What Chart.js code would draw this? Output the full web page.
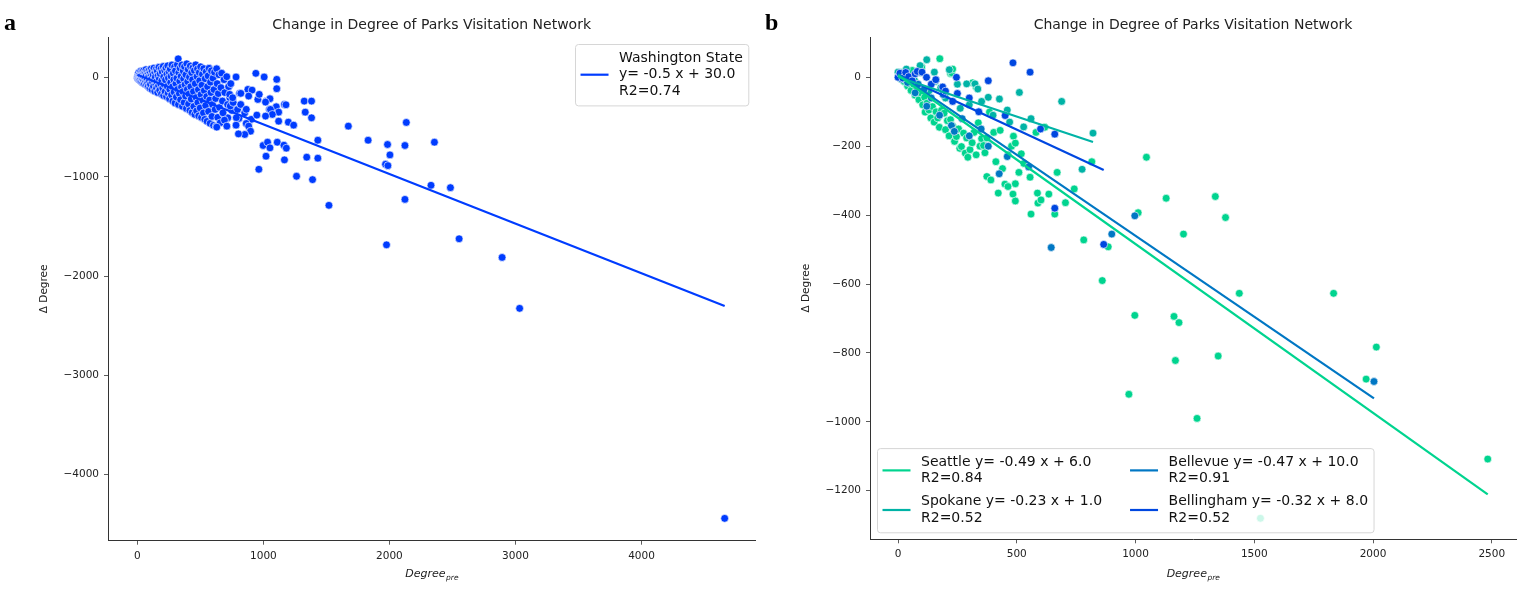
<!DOCTYPE html>
<html>
<head>
<meta charset="utf-8">
<script src="https://cdn.jsdelivr.net/npm/chart.js@4.4.1/dist/chart.umd.min.js"></script>
<style>
  html, body { margin: 0; padding: 0; background: #fff; }
  #wrap { position: relative; width: 1528px; height: 592px; }
  canvas { position: absolute; top: 0; }
  #chartA { left: 0; }
  #chartB { left: 760px; }
</style>
</head>
<body>
<div id="wrap">
  <canvas id="chartA" width="760" height="592"></canvas>
  <canvas id="chartB" width="768" height="592"></canvas>
</div>
<script>
// ---- panel a: Washington State ----
var waPoints = [
  // dense cluster near the origin
  [1,3],[3,-6],[6,14],[7,35],[9,-12],[11,52],[14,-2],[16,22],[17,-20],[21,41],[23,7],[24,-31],[27,66],[29,-9],
  [31,28],[34,-44],[36,12],[37,58],[41,-18],[43,33],[44,-52],[47,3],[49,71],[51,-28],[53,45],[57,-61],[59,16],
  [61,-5],[64,54],[67,-40],[68,81],[71,25],[73,-70],[77,-14],[79,62],
  [82,-55],[85,39],[87,-88],[90,9],[93,74],[96,-33],[99,-104],[101,50],[104,-66],[108,18],[109,88],[113,-12],
  [116,-118],[117,61],[121,-47],[125,30],[128,-90],[131,97],[134,-25],[138,-136],[139,52],[142,5],[147,-71],
  [149,84],[152,-108],[155,-38],[158,67],[161,-150],[164,19],[168,-82],[171,105],[174,-12],[177,-127],[181,41],
  [184,-60],[188,90],[191,-165],[194,-30],[197,58],
  [201,-104],[205,113],[208,-180],[209,8],[213,-68],[217,75],[220,-141],[223,-22],[227,99],[231,-190],[234,36],
  [237,-88],[241,120],[244,-156],[246,-3],[251,60],[255,-212],[257,-118],[261,88],[264,-48],[267,16],[271,-175],
  [274,128],[278,-92],[281,-236],[285,44],[289,-20],[291,-145],[295,108],[299,-255],[302,70],[306,-60],[309,-195],
  [313,-5],[317,132],[319,-118],
  [324,190],[326,-270],[329,52],[333,-160],[336,-35],[339,96],[343,-222],[347,14],[350,-95],[353,128],[357,-288],
  [361,-140],[364,68],[367,-12],[371,-250],[374,112],[378,-70],[382,-185],[385,30],[389,-310],[392,140],[396,-118],
  [399,-40],[403,84],[406,-265],[409,-165],[413,6],[417,-330],[420,118],[424,-90],[427,-215],[431,50],[435,-350],
  [438,-20],[441,100],
  [445,-140],[448,-290],[452,72],[456,-370],[459,-60],[463,130],[466,-200],[470,-335],[473,12],[477,88],[480,-250],
  [484,-120],[487,-385],[491,52],[494,-30],[498,-305],[502,110],[505,-170],[509,-400],[512,-75],[516,35],[520,-230],
  [524,-355],[527,92],[531,-130],[535,-420],[538,-10],[542,-280],[546,60],[550,-190],[553,-440],[557,-90],
  [561,18],[565,-340],[569,95],[573,-225],[577,-460],[580,-45],[584,-150],[588,70],[592,-390],[596,-270],[600,-5],
  [604,-480],[608,-120],[612,55],[617,-320],[621,-210],[625,-490],[629,90],[633,-60],[638,-400],[642,-160],[647,30],
  [652,-300],[657,-455],[663,-100],[669,45],[675,-235],[682,-360],[688,-20],[694,-150],[702,-420],[709,10],
  [716,-270],[724,-90],[733,-200],[741,-60],[750,-330],
  // spread-out parks
  [718,-404],[679,-354],[737,-286],[795,-320],[852,-354],[806,-410],[691,-428],[760,-250],[820,-270],[732,-168],
  [811,-157],[877,-118],[864,-319],[785,-403],[903,-420],[956,-219],[1022,-236],[1048,-319],[1167,-269],
  [783,7],[940,44],[1006,7],[1106,-17],[1106,-111],[910,-125],[821,-158],[967,-168],[883,-185],[756,-202],
  [1052,-212],[1017,-246],[1179,-273],[1102,-293],[1324,-236],[1382,-236],[1332,-347],[1382,-404],[1056,-320],
  [1121,-347],[1071,-370],[1017,-387],[948,-377],[1121,-438],[1198,-448],[1240,-478],[864,-461],[783,-478],
  [710,-488],[630,-498],[883,-488],[898,-539],[852,-572],[802,-566],[1674,-488],[1831,-630],[1432,-630],
  [998,-683],[1033,-650],[1052,-707],[1110,-650],[1163,-680],[1182,-710],[1021,-791],[964,-923],[1167,-828],
  [1263,-993],[1344,-801],[1432,-811],[1390,-1027],[1520,-1286],[2134,-451],[1985,-673],[2123,-683],[2357,-650],
  [2004,-778],[1969,-872],[1988,-886],[2330,-1084],[2484,-1108],[2123,-1226],[2553,-1623],[1977,-1684],
  [2894,-1811],[3033,-2324],[4660,-4440]
];
var waName = "Washington State";
var waSlope = -0.5;
var waIntercept = 30.0;
var waR2 = "0.74";
var waXRange = [0, 4660];

// ---- panel b: cities ----
var cities = ["Seattle", "Spokane", "Bellevue", "Bellingham"];
var citySlopes = [-0.49, -0.23, -0.47, -0.32];
var cityIntercepts = [6.0, 1.0, 10.0, 8.0];
var cityR2 = ["0.84", "0.52", "0.91", "0.52"];
var cityXMax = [2483, 821, 2004, 866];

var seattlePoints = [
  [5,8],[12,-5],[18,15],[25,-12],[32,4],[40,-25],[48,-8],[55,-38],[60,20],[65,-20],[72,-52],[80,-32],[88,-65],
  [95,-45],[100,30],[104,-80],[112,-58],[114,-101],[122,-75],[130,-95],[138,-118],[145,-85],[152,-130],[160,-100],
  [167,-118],[174,-145],[176,54],[183,-96],[194,-104],[200,-152],[208,-126],[215,-170],[221,11],[221,-123],[226,13],
  [230,24],[230,-141],[238,-186],[246,-172],[255,-150],[260,-206],[267,-201],[276,-162],[283,-220],[289,-176],
  [294,-232],[303,-210],[312,-190],[314,-16],[320,-160],[329,-28],[329,-225],[338,-132],[345,-200],[352,-178],
  [360,-198],[366,-219],[374,-176],[374,-288],[385,-101],[391,-298],[403,-160],[412,-245],[422,-336],[430,-154],
  [440,-265],[450,-310],[463,-225],[463,-317],[478,-200],[484,-339],[486,-171],[494,-191],[494,-309],[494,-359],
  [509,-276],[519,-222],[530,-250],[556,-290],[560,-397],[581,-160],[587,-336],[589,-365],[602,-356],[618,-145],
  [635,-339],[660,-397],[670,-276],[705,-364],[742,-324],[782,-472],[816,-245],[860,-590],[885,-492],[972,-920],
  [997,-691],[1011,-393],[1046,-232],[1129,-351],[1162,-694],[1168,-822],[1183,-712],[1202,-455],[1259,-990],
  [1336,-346],[1348,-809],[1379,-407],[1437,-627],[1526,-1280],[1834,-627],[1971,-876],[2014,-783],[2483,-1108]
];
var spokanePoints = [
  [0,15],[10,5],[22,12],[35,24],[50,-6],[70,-10],[93,34],[95,14],[121,51],[130,-40],[153,15],[156,-12],[180,-30],
  [200,-60],[216,22],[250,-20],[262,-90],[289,-19],[300,-80],[324,-19],[336,-34],[352,-70],[380,-58],[400,-110],
  [427,-63],[460,-95],[470,-130],[511,-44],[529,-144],[560,-120],[689,-70],[775,-267],[821,-162]
];
var bellevuePoints = [
  [3,3],[15,-5],[28,8],[40,-15],[55,-3],[72,-45],[85,-20],[110,-35],[121,-84],[140,-60],[160,-7],[175,-110],
  [190,-50],[225,-140],[237,-157],[270,-120],[300,-170],[350,-150],[380,-200],[426,-280],[460,-230],[550,-260],
  [645,-494],[900,-455],[997,-402],[2004,-883]
];
var bellinghamPoints = [
  [0,0],[8,12],[20,-2],[32,14],[45,2],[60,-10],[72,10],[81,17],[101,15],[120,0],[140,-20],[159,-7],[188,-28],
  [200,-40],[230,-70],[246,0],[250,-47],[300,-60],[340,-100],[380,-10],[451,-111],[484,42],[556,15],[600,-150],
  [660,-165],[660,-380],[866,-485]
];
var cityPoints = [seattlePoints, spokanePoints, bellevuePoints, bellinghamPoints];

// ticks
var ticksAX = [0, 1000, 2000, 3000, 4000];
var ticksAY = [0, -1000, -2000, -3000, -4000];
var ticksBX = [0, 500, 1000, 1500, 2000, 2500];
var ticksBY = [0, -200, -400, -600, -800, -1000, -1200];

var chartTitle = "Change in Degree of Parks Visitation Network";

// styles
var FONT = "'DejaVu Sans', 'Liberation Sans', sans-serif";
var waColor = "#003cff";
var cityColors = ["#00d48f", "#00b3a6", "#0077c4", "#0047e0"];

function fmt(v) {
  return v < 0 ? "\u2212" + Math.abs(v) : String(v);
}

function toXY(list) {
  return list.map(function (p) { return { x: p[0], y: p[1] }; });
}

function fitLine(slope, intercept, x0, x1) {
  return [{ x: x0, y: slope * x0 + intercept }, { x: x1, y: slope * x1 + intercept }];
}

function makeScales(xt, yt, xr, yr, yTitlePad, yW, xH) {
  var tickFont = { family: FONT, size: 10.5 };
  return {
    x: {
      type: "linear", min: xr[0], max: xr[1],
      afterBuildTicks: function (s) { s.ticks = xt.map(function (v) { return { value: v }; }); },
      afterFit: function (s) { s.height = xH; },
      ticks: { callback: fmt, font: tickFont, color: "#222", padding: 5, maxRotation: 0, autoSkip: false },
      grid: { drawOnChartArea: false, drawTicks: true, tickLength: 4, tickColor: "#333", tickWidth: 0.8 },
      border: { display: true, color: "#333", width: 1 }
    },
    y: {
      type: "linear", min: yr[0], max: yr[1],
      afterBuildTicks: function (s) { s.ticks = yt.map(function (v) { return { value: v }; }); },
      afterFit: function (s) { s.width = yW; },
      ticks: { callback: fmt, font: tickFont, color: "#222", padding: 5, autoSkip: false },
      grid: { drawOnChartArea: false, drawTicks: true, tickLength: 4, tickColor: "#333", tickWidth: 0.8 },
      border: { display: true, color: "#333", width: 1 },
      title: { display: true, text: "\u0394 Degree", color: "#222",
               font: { family: FONT, size: 10.5 }, padding: { top: yTitlePad, bottom: 0 } }
    }
  };
}

// panel letter, custom legend, subscripted x-axis title
var decor = {
  id: "decor",
  afterDraw: function (chart, args, o) {
    var ctx = chart.ctx, area = chart.chartArea;
    ctx.save();
    // panel letter
    ctx.fillStyle = "#000";
    ctx.font = "bold 24px 'Liberation Serif', 'DejaVu Serif', serif";
    ctx.textBaseline = "alphabetic";
    ctx.textAlign = "left";
    ctx.fillText(o.letter, o.letterX, 30);

    // x-axis title: Degree_pre
    var cx = (area.left + area.right) / 2;
    ctx.fillStyle = "#222";
    ctx.font = "italic 11px " + FONT;
    var w1 = ctx.measureText("Degree").width;
    ctx.font = "italic 7.5px " + FONT;
    var w2 = ctx.measureText("pre").width;
    var sx = cx - (w1 + w2) / 2;
    ctx.font = "italic 11px " + FONT;
    ctx.fillText("Degree", sx, 577);
    ctx.font = "italic 7.5px " + FONT;
    ctx.fillText("pre", sx + w1 + 0.5, 580);

    // legend
    var lg = o.legend;
    ctx.font = "14px " + FONT;
    var lh = 16.8, pad = 5.5, handle = 28, tpad = 10.5, colGap = 28, rowGap = 6;
    var nrow = Math.ceil(lg.entries.length / lg.ncol);
    var cols = [];
    for (var c = 0; c < lg.ncol; c++) cols.push(lg.entries.slice(c * nrow, (c + 1) * nrow));
    var colW = cols.map(function (col) {
      var m = 0;
      col.forEach(function (e) { e.lines.forEach(function (l) { m = Math.max(m, ctx.measureText(l).width); }); });
      return handle + tpad + m;
    });
    var rowH = [];
    for (var r = 0; r < nrow; r++) {
      var hmax = 0;
      cols.forEach(function (col) { if (col[r]) hmax = Math.max(hmax, col[r].lines.length * lh); });
      rowH.push(hmax);
    }
    var w = pad * 2 + colW.reduce(function (a, b) { return a + b; }, 0) + colGap * (lg.ncol - 1);
    var h = pad * 2 + rowH.reduce(function (a, b) { return a + b; }, 0) + rowGap * (nrow - 1);
    var x0 = lg.anchor === "upper right" ? area.right - 7 - w : area.left + 7;
    var y0 = lg.anchor === "upper right" ? area.top + 7 : area.bottom - 7 - h;

    ctx.beginPath();
    ctx.roundRect(x0 + 0.5, y0 + 0.5, w, h, 3);
    ctx.fillStyle = "rgba(255,255,255,0.8)";
    ctx.fill();
    ctx.strokeStyle = "#d6d6d6";
    ctx.lineWidth = 1;
    ctx.stroke();

    ctx.textBaseline = "middle";
    ctx.textAlign = "left";
    var cxp = x0 + pad;
    cols.forEach(function (col, ci) {
      var cy = y0 + pad;
      col.forEach(function (e, ri) {
        var mid = cy + rowH[ri] / 2;
        ctx.strokeStyle = e.color;
        ctx.lineWidth = 2.2;
        ctx.beginPath();
        ctx.moveTo(cxp, mid);
        ctx.lineTo(cxp + handle, mid);
        ctx.stroke();
        ctx.fillStyle = "#111";
        e.lines.forEach(function (l, li) {
          ctx.fillText(l, cxp + handle + tpad, cy + lh * (li + 0.5));
        });
        cy += rowH[ri] + rowGap;
      });
      cxp += colW[ci] + colGap;
    });
    ctx.restore();
  }
};

function baseOptions(scales, decorOpts) {
  return {
    responsive: false,
    animation: false,
    events: [],
    layout: { padding: decorOpts.padding },
    scales: scales,
    plugins: {
      legend: { display: false },
      tooltip: { enabled: false },
      title: {
        display: true, text: chartTitle, fullSize: false, color: "#222",
        font: { family: FONT, size: 14, weight: "normal" },
        padding: { top: 17, bottom: 3.2 }
      },
      decor: decorOpts
    }
  };
}

function scatterSet(points, color, order) {
  return {
    type: "scatter", data: toXY(points), order: order,
    pointRadius: 3.9, pointBackgroundColor: color,
    pointBorderColor: "rgba(255,255,255,0.9)", pointBorderWidth: 0.7
  };
}

function lineSet(slope, intercept, x0, x1, color) {
  return {
    type: "line", data: fitLine(slope, intercept, x0, x1), order: 0,
    borderColor: color, borderWidth: 2.2, pointRadius: 0, fill: false, tension: 0
  };
}

// ---- chart a ----
new Chart(document.getElementById("chartA"), {
  type: "scatter",
  data: {
    datasets: [
      lineSet(waSlope, waIntercept, waXRange[0], waXRange[1], waColor),
      scatterSet(waPoints, waColor, 1)
    ]
  },
  options: baseOptions(
    makeScales(ticksAX, ticksAY, [-233, 4903], [-4665, 410], 37.7, 108, 51.3),
    {
      letter: "a", letterX: 4,
      padding: { left: 0, right: 2, top: 0, bottom: 0 },
      legend: {
        anchor: "upper right", ncol: 1,
        entries: [{
          color: waColor,
          lines: [waName, "y= " + waSlope + " x + " + waIntercept.toFixed(1), "R2=" + waR2]
        }]
      }
    }
  ),
  plugins: [decor]
});

// ---- chart b ----
var setsB = [];
cities.forEach(function (c, i) {
  setsB.push(lineSet(citySlopes[i], cityIntercepts[i], 0, cityXMax[i], cityColors[i]));
});
cities.forEach(function (c, i) {
  setsB.push(scatterSet(cityPoints[i], cityColors[i], cities.length - i));
});
var entriesB = cities.map(function (c, i) {
  return {
    color: cityColors[i],
    lines: [c + " y= " + citySlopes[i] + " x + " + cityIntercepts[i].toFixed(1), "R2=" + cityR2[i]]
  };
});

new Chart(document.getElementById("chartB"), {
  type: "scatter",
  data: { datasets: setsB },
  options: baseOptions(
    makeScales(ticksBX, ticksBY, [-118, 2602], [-1341, 117], 40, 110, 52.7),
    {
      letter: "b", letterX: 5,
      padding: { left: 0, right: 12, top: 0, bottom: 0 },
      legend: { anchor: "lower left", ncol: 2, entries: entriesB }
    }
  ),
  plugins: [decor]
});
</script>
</body>
</html>
